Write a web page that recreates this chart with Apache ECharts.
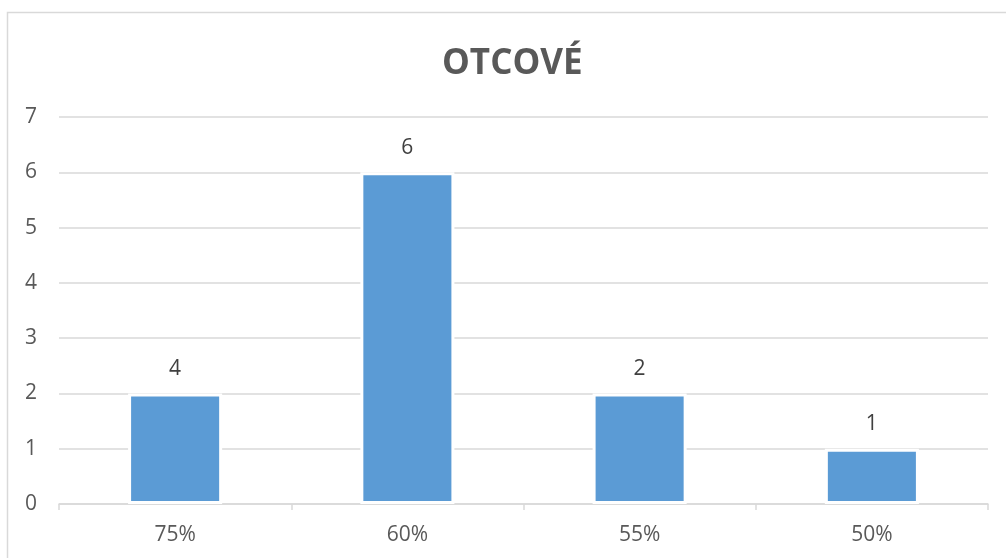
<!DOCTYPE html>
<html>
<head>
<meta charset="utf-8">
<script src="https://cdn.jsdelivr.net/npm/echarts@6/dist/echarts.min.js"></script>
<style>html,body{margin:0;padding:0;background:#fff;}#c{width:1006px;height:558px;}</style>
</head>
<body>
<div id="c"></div>
<script>
const title = 'OTCOVÉ';
const categories = ['75%', '60%', '55%', '50%'];
const values = [2, 6, 2, 1];
const barLabels = ['4', '6', '2', '1'];
const yTicks = [0, 1, 2, 3, 4, 5, 6, 7];

const chart = echarts.init(document.getElementById('c'), null, {renderer: 'canvas'});
const font = '"Open Sans", "Liberation Sans", sans-serif';
chart.setOption({
  animation: false,
  backgroundColor: '#fff',
  title: {
    text: title,
    left: 437,
    top: 42,
    textStyle: {fontFamily: font, fontWeight: 'bold', fontSize: 35, color: '#595959'}
  },
  graphic: [{
    type: 'rect',
    shape: {x: 7.5, y: 12.5, width: 1020, height: 570},
    style: {fill: 'none', stroke: '#d9d9d9', lineWidth: 1.5},
    silent: true
  }],
  grid: {left: 59, right: 18, top: 117, bottom: 54},
  xAxis: {
    type: 'category',
    data: categories,
    axisLine: {lineStyle: {color: '#d9d9d9', width: 1.5}},
    axisTick: {show: true, length: 6, lineStyle: {color: '#d9d9d9', width: 1.5}},
    axisLabel: {fontFamily: font, fontSize: 21, color: '#595959', margin: 21}
  },
  yAxis: {
    type: 'value',
    min: yTicks[0],
    max: yTicks[yTicks.length - 1],
    interval: 1,
    axisLine: {show: false},
    axisTick: {show: false},
    axisLabel: {fontFamily: font, fontSize: 21, color: '#595959', margin: 22},
    splitLine: {lineStyle: {color: '#d9d9d9', width: 1.5}}
  },
  series: [{
    type: 'bar',
    data: values,
    barWidth: '40.5%',
    itemStyle: {color: '#5b9bd5', borderColor: '#ffffff', borderWidth: 3},
    label: {
      show: true,
      position: 'top',
      distance: 14,
      fontFamily: font,
      fontSize: 21,
      color: '#404040',
      formatter: p => barLabels[p.dataIndex]
    }
  }]
});
</script>
</body>
</html>
